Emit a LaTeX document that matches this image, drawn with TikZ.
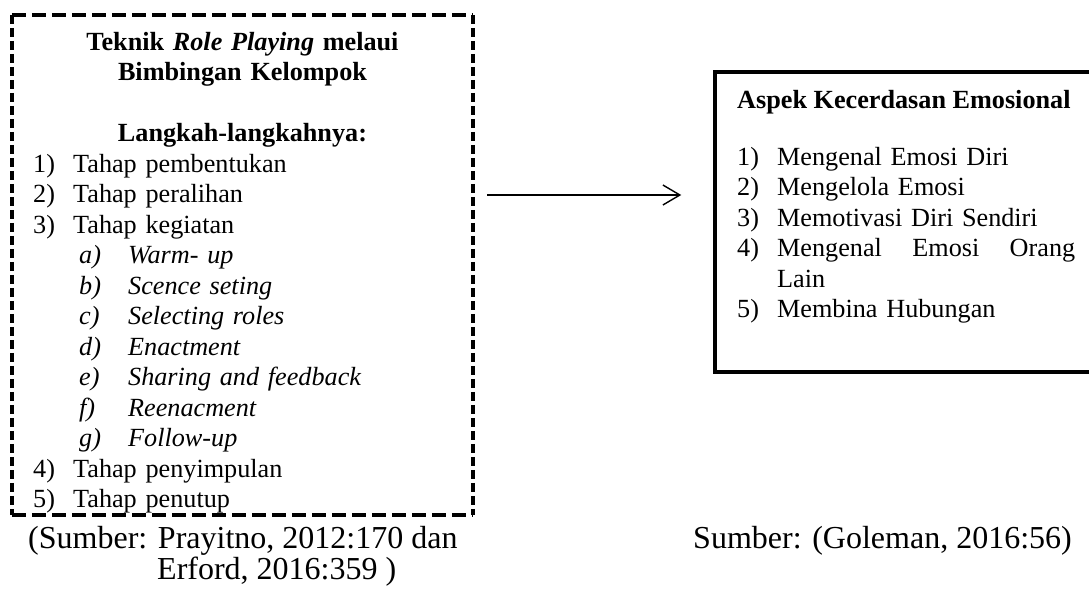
\documentclass[tikz,border=0pt]{standalone}
\usepackage{fontspec}
\setmainfont{Liberation Serif}
\usetikzlibrary{arrows.meta,positioning}

\newcommand{\nomor}[1]{\makebox[40pt][l]{#1}}
\newcommand{\subnomor}[1]{\hspace*{46pt}\makebox[49pt][l]{\textit{#1}}}

\begin{document}
\begin{tikzpicture}[x=1pt, y=-1pt,
  garisputus/.style={line width=3.5pt},
  kotak/.style={rectangle, draw, line width=3.5pt, inner sep=0pt, minimum width=390pt, minimum height=300pt},
  isi/.style={inner sep=0pt, anchor=base west, align=left, font=\fontsize{26.2}{30.5}\selectfont},
  tebal/.style={font=\fontsize{26.2}{30.5}\selectfont\bfseries},
  sumber/.style={inner sep=0pt, anchor=base west, font=\fontsize{32}{32}\selectfont}]

\useasboundingbox (0,0) rectangle (1089,589);
\clip (0,0) rectangle (1089,589);

%Kotak
\node[rectangle, inner sep=0pt, minimum width=461pt, minimum height=500pt] (teknik) at (242.5,265) {};
\node[kotak] (aspek) at (910,222) {};

\draw[garisputus, dash pattern=on 14pt off 6pt] (teknik.north west) -- (teknik.north east);
\draw[garisputus, dash pattern=on 14pt off 6pt] (teknik.south west) -- (teknik.south east);
\draw[garisputus, dash pattern=on 9pt off 4pt] (teknik.north west) -- (teknik.south west);
\draw[garisputus, dash pattern=on 9pt off 4pt] (teknik.north east) -- (teknik.south east);

%Isi kiri
\node[isi, tebal, anchor=base, text width=440pt, align=center] (judul) at (242.5,50)
  {Teknik \textit{Role Playing} melaui\\Bimbingan Kelompok\\[30.5pt]Langkah-langkahnya:};
\node[isi, text width=430pt] (langkah) at (33,172)
  {\nomor{1)}Tahap pembentukan\\
   \nomor{2)}Tahap peralihan\\
   \nomor{3)}Tahap kegiatan\\
   \subnomor{a)}\textit{Warm- up}\\
   \subnomor{b)}\textit{Scence seting}\\
   \subnomor{c)}\textit{Selecting roles}\\
   \subnomor{d)}\textit{Enactment}\\
   \subnomor{e)}\textit{Sharing and feedback}\\
   \subnomor{f)}\textit{Reenacment}\\
   \subnomor{g)}\textit{Follow-up}\\
   \nomor{4)}Tahap penyimpulan\\
   \nomor{5)}Tahap penutup};

%Isi kanan
\node[isi, tebal] (judulaspek) at (737,108) {Aspek Kecerdasan Emosional};
\node[isi, text width=338pt] (daftaraspek) at (737,165)
  {\nomor{1)}Mengenal Emosi Diri\\
   \nomor{2)}Mengelola Emosi\\
   \nomor{3)}Memotivasi Diri Sendiri\\
   \nomor{4)}Mengenal\hfill Emosi\hfill Orang\\
   \hspace*{40pt}Lain\\
   \nomor{5)}Membina Hubungan};

%Panah
\coordinate (panah) at (600,195);
\draw[-{Straight Barb[length=17pt,width=20pt]}, line width=1.4pt, shorten <=14pt, shorten >=32pt]
  (teknik.east |- panah) -- (aspek.west |- panah);

%Sumber
\node[sumber] (sumberkiri) at (28,548) {(Sumber: Prayitno, 2012:170 dan};
\node[sumber] (sumberkiri2) at (157,579) {Erford, 2016:359 )};
\node[sumber] (sumberkanan) at (693,548) {Sumber: (Goleman, 2016:56)};

\end{tikzpicture}
\end{document}
